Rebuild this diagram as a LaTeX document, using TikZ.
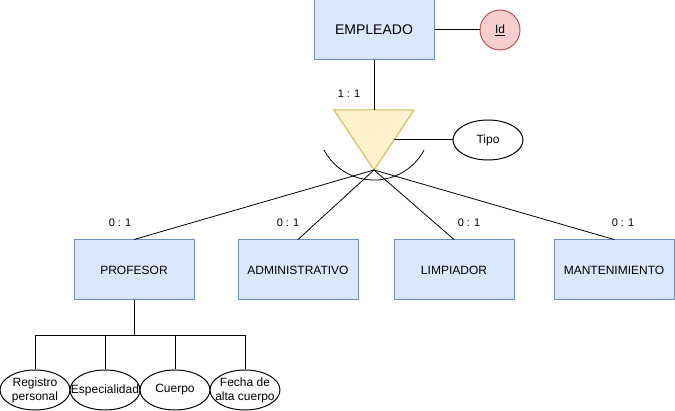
\documentclass[tikz,border=0pt]{standalone}
\usepackage{fontspec}
\setmainfont{Liberation Sans}
\usetikzlibrary{positioning,shapes.geometric}
\definecolor{entfill}{HTML}{DAE8FC}
\definecolor{entline}{HTML}{6C8EBF}
\definecolor{keyfill}{HTML}{F8CECC}
\definecolor{keyline}{HTML}{B85450}
\definecolor{isafill}{HTML}{FFF2CC}
\definecolor{isaline}{HTML}{D6B656}
\tikzset{
  entity/.style={draw=entline,fill=entfill,line width=1pt,minimum width=120pt,
    minimum height=60pt,inner sep=0pt,font=\fontsize{12}{14}\selectfont},
  attr/.style={draw,ellipse,fill=white,line width=1pt,minimum width=70pt,
    minimum height=40pt,inner xsep=-10pt,inner ysep=0pt,align=center,
    font=\fontsize{12}{14}\selectfont},
  keyattr/.style={draw=keyline,fill=keyfill,circle,line width=1pt,minimum size=40pt,
    inner sep=0pt,font=\fontsize{12}{14}\selectfont},
  card/.style={inner sep=0pt,font=\fontsize{11}{13}\selectfont},
  link/.style={line width=1pt},
  sublink/.style={line width=0.8pt},
}
\begin{document}
\begin{tikzpicture}[x=1pt,y=-1pt]
      \useasboundingbox (0,0) rectangle (675,411);

      \node[entity,font=\fontsize{14}{16}\selectfont](emp) at (374,30){EMPLEADO};
      \node[keyattr,right=45pt of emp](id){\underline{Id}};

      % triangulo de la jerarquia
      \coordinate (tritop) at (374,110);
      \coordinate (apex) at (374,170);
      \coordinate (trieast) at (394,140);
      \draw[draw=isaline,fill=isafill,line width=1pt]
        (tritop) ++(-40,0) -- ++(80,0) -- (apex) -- cycle;
      \node[attr,right=58.5pt of trieast](tipo){Tipo};
      \coordinate (arcstart) at (324,150);
      \draw[sublink] (arcstart) arc[start angle=208,end angle=332,radius=56.7pt];

      \node[entity](prof) at (134,270){PROFESOR};
      \node[entity,right=43pt of prof](adm){ADMINISTRATIVO};
      \node[entity,right=35pt of adm](lim){LIMPIADOR};
      \node[entity,right=39pt of lim](man){MANTENIMIENTO};

      \node[card](c11) at (349,94){1 : 1};
      \node[card](c01p) at (120,223){0 : 1};
      \node[card](c01a) at (288,223){0 : 1};
      \node[card](c01l) at (469,223){0 : 1};
      \node[card](c01m) at (623,223){0 : 1};

      \node[attr](reg) at (35,390){Registro\\personal};
      \node[attr,right=-1pt of reg](esp){Especialidad};
      \node[attr,right=-1pt of esp](cue){Cuerpo};
      \node[attr,right=-1pt of cue](fec){Fecha de\\alta cuerpo};

      \draw[link] (emp) -- (id);
      \draw[link] (emp.south) -- (tritop);
      \draw[link] (trieast) -- (tipo);
      \foreach \e in {prof,adm,lim,man}
        \draw[sublink] (apex) -- (\e.north);

      \coordinate[below=35pt of prof.south](bus);
      \draw[link] (prof.south) -- (bus);
      \foreach \a in {reg,esp,cue,fec}
        \draw[link] (bus) -| (\a);
    \end{tikzpicture}
\end{document}
